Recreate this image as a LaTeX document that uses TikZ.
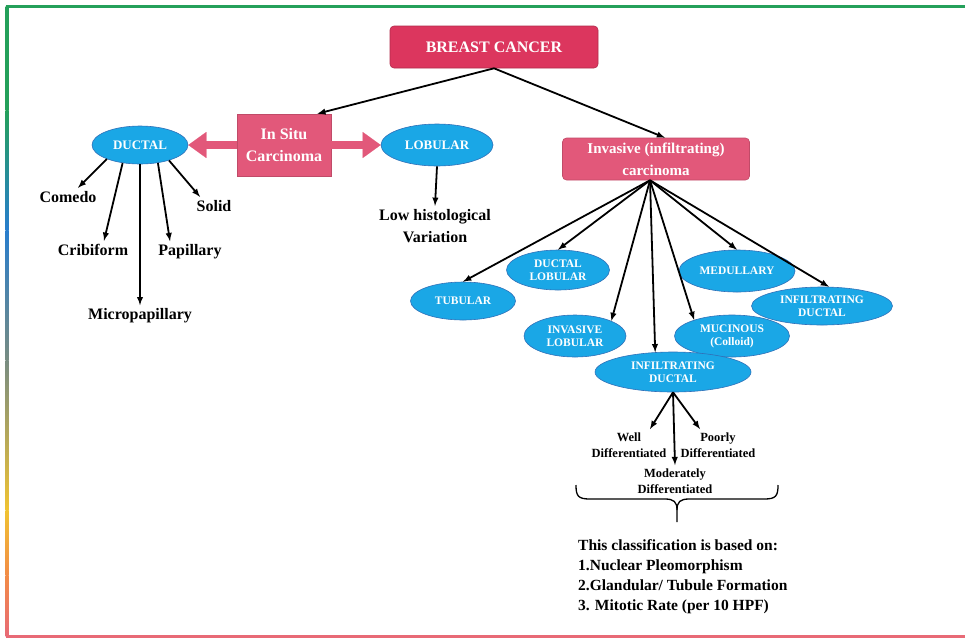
\documentclass[tikz,border=0pt]{standalone}
\usepackage{fontspec}
\setmainfont{Liberation Serif}
\usepackage{tikz}
\usetikzlibrary{arrows.meta, shapes}
\tikzset{>=latex}
\definecolor{bcred}{RGB}{220,54,94}
\definecolor{cpink}{RGB}{226,88,122}
\definecolor{cblue}{RGB}{26,167,230}
\definecolor{cblueline}{RGB}{48,112,184}
\definecolor{fgreen}{RGB}{36,160,90}
\definecolor{fblue}{RGB}{40,125,205}
\definecolor{fgray}{RGB}{120,140,130}
\definecolor{fyellow}{RGB}{240,195,50}
\definecolor{forange}{RGB}{242,140,70}
\definecolor{fred}{RGB}{232,106,118}
\tikzset{
  pinkbox/.style = {draw = cpink!85!black, fill = cpink, text = white, font = \fontsize{15}{22}\selectfont\bfseries, align = center, inner sep = 0pt, line width = 0.6pt},
  kind/.style = {ellipse, draw = cblueline, fill = cblue, text = white, font = \fontsize{11.5}{13}\selectfont\bfseries, align = center, inner sep = 0pt, line width = 0.6pt},
  lbl/.style = {font = \fontsize{16}{22}\selectfont\bfseries, align = center},
  small lbl/.style = {font = \fontsize{12.5}{16}\selectfont\bfseries, align = center},
  arr/.style = {->, line width = 1.8pt},
  fat/.style = {draw = cpink, line width = 8pt, -{Triangle[length = 18pt, width = 26pt, line width = 0.1pt]}}
}

\begin{document}
\begin{tikzpicture}[x = 1pt, y = -1pt]
\useasboundingbox (0,0) rectangle (965,641);
% frame
\draw[fgreen, line width = 3pt] (5.5,6) -- (965,6);
\draw[fred, line width = 3pt] (5.5,636) -- (965,636);
\shade[top color = fgreen, bottom color = fgreen] (5.5,6) rectangle (8.5,110);
\shade[top color = fgreen, bottom color = fblue] (5.5,110) rectangle (8.5,230);
\shade[top color = fblue, bottom color = fgray] (5.5,230) rectangle (8.5,360);
\shade[top color = fgray, bottom color = fyellow] (5.5,360) rectangle (8.5,510);
\shade[top color = fyellow, bottom color = forange] (5.5,510) rectangle (8.5,575);
\shade[top color = forange, bottom color = fred] (5.5,575) rectangle (8.5,636);

% boxes
\node[draw = bcred!80!black, fill = bcred, rounded corners = 4pt, text = white, font = \fontsize{16}{18}\selectfont\bfseries, minimum width = 208pt, minimum height = 42pt, line width = 0.6pt] (bc) at (494,47) {BREAST CANCER};
\node[pinkbox, font = \fontsize{16}{22}\selectfont\bfseries, minimum width = 94pt, minimum height = 62pt] (insitu) at (284,145) {In Situ\\Carcinoma};
\node[pinkbox, rounded corners = 4pt, minimum width = 187pt, minimum height = 42pt] (inv) at (656,159) {Invasive (infiltrating)\\carcinoma};

% in situ
\node[kind, font = \fontsize{13}{14}\selectfont\bfseries, minimum width = 96pt, minimum height = 38pt] (ductal) at (140,145) {DUCTAL};
\node[kind, font = \fontsize{13}{14}\selectfont\bfseries, minimum width = 112pt, minimum height = 42pt] (lobular) at (437,145) {LOBULAR};
\draw[fat] (insitu.west) -- (ductal.east);
\draw[fat] (insitu.east) -- (lobular.west);

\node[lbl] (comedo) at (68,197) {Comedo};
\node[lbl] (crib) at (93,250) {Cribiform};
\node[lbl] (micro) at (140,316) {Micropapillary};
\node[lbl] (pap) at (190,252) {Papillary};
\node[lbl] (solid) at (214,206) {Solid};
\node[lbl] (low) at (435,226) {Low histological\\Variation};

\draw[arr] (ductal.203) -- ([xshift = 10pt]comedo.north);
\draw[arr] (ductal.226) -- ([xshift = 11pt]crib.north);
\draw[arr] (ductal.south) -- (micro.north);
\draw[arr] (ductal.-45) -- ([xshift = -20pt]pap.north);
\draw[arr] (ductal.-28) -- ([xshift = -14pt]solid.north);
\draw[arr] (lobular.south) -- (low.north);

\draw[arr] (bc.south) -- ([xshift = -14pt]insitu.north east);
\draw[arr] (bc.south) -- ([xshift = 9pt]inv.north);

% invasive
\node[kind, minimum width = 105pt, minimum height = 38pt] (tub) at (463,301) {TUBULAR};
\node[kind, minimum width = 103pt, minimum height = 40pt] (duclob) at (558,270) {DUCTAL\\LOBULAR};
\node[kind, minimum width = 102pt, minimum height = 42pt] (invlob) at (575,336) {INVASIVE\\LOBULAR};
\node[kind, minimum width = 115pt, minimum height = 42pt] (muc) at (732,336) {MUCINOUS\\(Colloid)};
\node[kind, minimum width = 116pt, minimum height = 42pt] (med) at (737,271) {MEDULLARY};
\node[kind, minimum width = 141pt, minimum height = 38pt] (infr) at (822,306) {INFILTRATING\\DUCTAL};
\node[kind, minimum width = 156pt, minimum height = 40pt] (infd) at (673,372) {INFILTRATING\\DUCTAL};

\coordinate (fan) at ([xshift = -6pt]inv.south);
\foreach \t in {tub.north, duclob.north, invlob.north east, infd.132, muc.157, med.north, infr.70}
  \draw[arr] (fan) -- (\t);

% grades
\node[small lbl] (well) at (629,445) {Well\\Differentiated};
\node[small lbl] (poor) at (718,445) {Poorly\\Differentiated};
\node[small lbl] (mod) at (675,481) {Moderately\\Differentiated};
\draw[arr] (infd.south) -- ([xshift = 21pt]well.north);
\draw[arr] (infd.south) -- (mod.north);
\draw[arr] (infd.south) -- ([xshift = -18pt]poor.north);

% brace
\draw[line width = 1.3pt] (576,485) .. controls (576,496) and (578,499) .. (590,499) -- (665,499) .. controls (674,499) and (677,502) .. (677,510) -- (677,522);
\draw[line width = 1.3pt] (778,485) .. controls (778,496) and (776,499) .. (764,499) -- (689,499) .. controls (680,499) and (677,502) .. (677,510);

\node[anchor = north west, font = \fontsize{15.5}{20}\selectfont\bfseries, align = left, inner sep = 0pt] (basis) at (578,539) {This classification is based on:\\1.Nuclear Pleomorphism\\2.Glandular/ Tubule Formation\\3. Mitotic Rate (per 10 HPF)};
\end{tikzpicture}
\end{document}
